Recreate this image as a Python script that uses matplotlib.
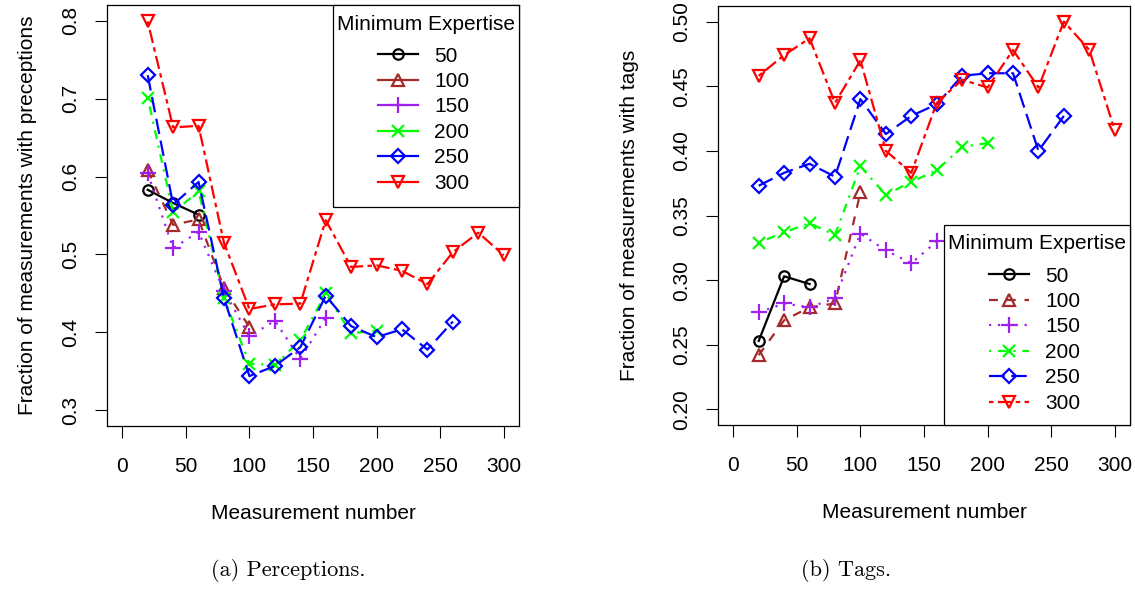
import matplotlib
matplotlib.use("Agg")
import matplotlib.pyplot as plt
from matplotlib.lines import Line2D
from matplotlib.patches import Rectangle

plt.rcParams['font.family'] = ['Liberation Sans', 'DejaVu Sans']

W, H = 1135, 594

# measurement numbers (every 20)
meas = [20, 40, 60, 80, 100, 120, 140, 160, 180, 200, 220, 240, 260, 280, 300]
levels = ['50', '100', '150', '200', '250', '300']

# (a) perceptions
perc_50 = [0.583, 0.566, 0.551]
perc_100 = [0.608, 0.538, 0.545, 0.457, 0.407]
perc_150 = [0.604, 0.508, 0.529, 0.453, 0.395, 0.415, 0.366, 0.419]
perc_200 = [0.701, 0.554, 0.581, 0.444, 0.360, 0.358, 0.390, 0.450, 0.399, 0.402]
perc_250 = [0.730, 0.564, 0.593, 0.444, 0.344, 0.357, 0.381, 0.447, 0.408,
            0.394, 0.404, 0.378, 0.414]
perc_300 = [0.799, 0.663, 0.665, 0.515, 0.430, 0.436, 0.437, 0.544, 0.484,
            0.486, 0.479, 0.462, 0.503, 0.528, 0.499]

# (b) tags
tag_50 = [0.253, 0.303, 0.297]
tag_100 = [0.242, 0.269, 0.279, 0.282, 0.368]
tag_150 = [0.275, 0.282, 0.279, 0.286, 0.336, 0.323, 0.313, 0.330]
tag_200 = [0.329, 0.337, 0.344, 0.335, 0.388, 0.366, 0.376, 0.385, 0.403, 0.406]
tag_250 = [0.373, 0.383, 0.390, 0.380, 0.440, 0.413, 0.427, 0.436, 0.458,
           0.460, 0.460, 0.400, 0.427]
tag_300 = [0.458, 0.474, 0.487, 0.437, 0.470, 0.400, 0.383, 0.437, 0.455,
           0.449, 0.478, 0.449, 0.500, 0.478, 0.416]

perc = [perc_50, perc_100, perc_150, perc_200, perc_250, perc_300]
tags = [tag_50, tag_100, tag_150, tag_200, tag_250, tag_300]

# R-like styles: lty 1..6, pch 1..6
colors = ['black', '#A52A2A', '#A020F0', '#00FF00', '#0000FF', '#FF0000']
markers = ['o', '^', '+', 'x', 'D', 'v']
msizes = [7.5, 9, 11, 8.5, 7.5, 9]
dashes = [None, (4, 4), (1, 3), (1, 3, 4, 3), (7, 3), (2, 2, 6, 2)]
LW = 1.6
FS = 15


def fx(x):
    return x / W


def fy(y):
    return 1 - y / H


def draw(ax, series, ylim, yticks, yfmt, ylabel):
    for vals, c, m, ms, d in zip(series, colors, markers, msizes, dashes):
        line, = ax.plot(meas[:len(vals)], vals, color=c, marker=m, ms=ms,
                        mfc='none', mew=1.6, lw=LW, clip_on=False)
        if d is not None:
            line.set_dashes(d)
    ax.set_xlim(-12, 312)
    ax.set_ylim(*ylim)
    ax.set_xticks([0, 50, 100, 150, 200, 250, 300])
    ax.set_yticks(yticks)
    ax.set_yticklabels([yfmt % v for v in yticks], rotation=90, va='center')
    ax.tick_params(length=8.6, width=0.8, labelsize=FS, pad=14)
    ax.tick_params(axis='y', pad=11)
    for s in ax.spines.values():
        s.set_linewidth(0.9)
    ax.set_xlabel('Measurement number', fontsize=FS)
    ax.xaxis.label.set_va('center')
    ax.xaxis.set_label_coords(0.5, -0.209)
    ax.set_ylabel(ylabel, fontsize=FS)
    ax.yaxis.label.set_va('center')


def make_legend(ax, styled, box, title_y, entry_top):
    # box = (left, top, right, bottom) in pixels
    x0, y0, x1, y1 = box
    ax.add_patch(Rectangle((fx(x0), fy(y1)), fx(x1 - x0), (y1 - y0) / H,
                           transform=fig.transFigure, facecolor='white',
                           edgecolor='black', lw=0.9, clip_on=False, zorder=5))
    ax.text(fx((x0 + x1) / 2), fy(title_y), 'Minimum Expertise', fontsize=FS,
            ha='center', va='center', transform=fig.transFigure, zorder=7)
    handles = []
    for c, m, ms, d in zip(colors, markers, msizes, dashes):
        h = Line2D([], [], color=c, marker=m, ms=ms, mfc='none', mew=1.6, lw=LW)
        if styled and d is not None:
            h.set_dashes(d)
        handles.append(h)
    leg = ax.legend(handles, levels, loc='upper left',
                    bbox_to_anchor=(fx(x0 + 45), fy(entry_top)),
                    bbox_transform=fig.transFigure,
                    fontsize=FS, frameon=False, borderaxespad=0, borderpad=0,
                    handlelength=1.9, handletextpad=0.8, labelspacing=0.31)
    leg.set_zorder(8)
    return leg


fig = plt.figure(figsize=(11.35, 5.94), dpi=100)
ax1 = fig.add_axes([fx(107), fy(426), 412 / W, 421 / H])
ax2 = fig.add_axes([fx(718), fy(425), 412 / W, 419 / H])

draw(ax1, perc, (0.28, 0.82), [0.3, 0.4, 0.5, 0.6, 0.7, 0.8], '%.1f',
     'Fraction of measurements with preceptions')
ax1.yaxis.set_label_coords(-0.194, 0.5)
make_legend(ax1, False, (333, 5, 519, 207), 25, 46.5)

draw(ax2, tags, (0.188, 0.512), [0.20, 0.25, 0.30, 0.35, 0.40, 0.45, 0.50], '%.2f',
     'Fraction of measurements with tags')
ax2.yaxis.set_label_coords(-0.216, 0.5)
make_legend(ax2, True, (944, 225, 1130, 425), 243, 266.5)

fig.text(fx(288), fy(571), '(a) Perceptions.', ha='center', va='center',
         fontfamily='cmr10', fontsize=16)
fig.text(fx(846), fy(571), '(b) Tags.', ha='center', va='center',
         fontfamily='cmr10', fontsize=16)

fig.savefig('out.png', dpi=100)
